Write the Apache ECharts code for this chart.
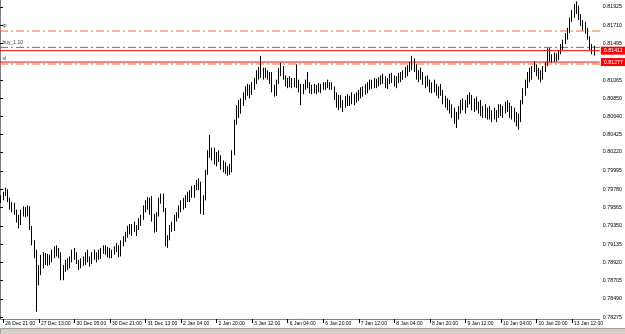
<!DOCTYPE html>
<html>
<head>
<meta charset="utf-8">
<script src="https://cdn.jsdelivr.net/npm/echarts@6/dist/echarts.min.js"></script>
<style>
  html, body { margin: 0; padding: 0; background: #fff; }
  #main { width: 625px; height: 334px; }
</style>
</head>
<body>
<div id="main"></div>
<script>
// hourly bars, [open, close, low, high]
var ohlc = [
  [0.7965,0.7968,0.7962,0.7971],[0.7968,0.7973,0.7965,0.7975],[0.7973,0.7977,0.7970,0.7980],[0.7977,0.7965,0.7963,0.7978],
  [0.7965,0.7957,0.7954,0.7968],[0.7957,0.7959,0.7951,0.7963],[0.7959,0.7951,0.7948,0.7962],[0.7951,0.7944,0.7939,0.7954],
  [0.7944,0.7938,0.7932,0.7948],[0.7938,0.7951,0.7936,0.7954],[0.7951,0.7954,0.7946,0.7958],[0.7954,0.7949,0.7945,0.7957],
  [0.7949,0.7956,0.7946,0.7959],[0.7956,0.7932,0.7930,0.7958],[0.7932,0.7916,0.7912,0.7935],[0.7916,0.7901,0.7897,0.7918],
  [0.7901,0.7869,0.7834,0.7907],[0.7869,0.7883,0.7865,0.7889],[0.7883,0.7897,0.7877,0.7901],[0.7897,0.7892,0.7885,0.7904],
  [0.7892,0.7899,0.7889,0.7903],[0.7899,0.7895,0.7888,0.7902],[0.7895,0.7897,0.7889,0.7901],[0.7897,0.7904,0.7892,0.7907],
  [0.7904,0.7909,0.7897,0.7911],[0.7909,0.7907,0.7899,0.7912],[0.7907,0.7902,0.7897,0.7909],[0.7902,0.7876,0.7871,0.7904],
  [0.7876,0.7885,0.7871,0.7889],[0.7885,0.7892,0.7881,0.7895],[0.7892,0.7888,0.7883,0.7897],[0.7888,0.7896,0.7885,0.7899],
  [0.7896,0.7904,0.7892,0.7907],[0.7904,0.7899,0.7895,0.7909],[0.7899,0.7892,0.7890,0.7904],[0.7892,0.7888,0.7883,0.7895],
  [0.7888,0.7894,0.7885,0.7897],[0.7894,0.7890,0.7888,0.7899],[0.7890,0.7902,0.7889,0.7904],[0.7902,0.7897,0.7892,0.7907],
  [0.7897,0.7892,0.7887,0.7899],[0.7892,0.7902,0.7890,0.7904],[0.7902,0.7899,0.7895,0.7907],[0.7899,0.7903,0.7892,0.7904],
  [0.7903,0.7898,0.7895,0.7907],[0.7898,0.7907,0.7896,0.7909],[0.7907,0.7910,0.7902,0.7912],[0.7910,0.7904,0.7901,0.7912],
  [0.7904,0.7908,0.7898,0.7910],[0.7908,0.7901,0.7897,0.7909],[0.7901,0.7904,0.7897,0.7907],[0.7904,0.7909,0.7901,0.7911],
  [0.7909,0.7907,0.7904,0.7915],[0.7907,0.7902,0.7898,0.7912],[0.7902,0.7915,0.7899,0.7918],[0.7915,0.7921,0.7911,0.7923],
  [0.7921,0.7925,0.7916,0.7928],[0.7925,0.7932,0.7921,0.7935],[0.7932,0.7930,0.7925,0.7937],[0.7930,0.7935,0.7923,0.7937],
  [0.7935,0.7930,0.7928,0.7940],[0.7930,0.7934,0.7923,0.7936],[0.7934,0.7942,0.7930,0.7944],[0.7942,0.7945,0.7935,0.7948],
  [0.7945,0.7957,0.7942,0.7959],[0.7957,0.7962,0.7951,0.7965],[0.7962,0.7958,0.7954,0.7969],[0.7958,0.7965,0.7948,0.7968],
  [0.7965,0.7944,0.7940,0.7970],[0.7944,0.7930,0.7927,0.7949],[0.7930,0.7949,0.7928,0.7951],[0.7949,0.7965,0.7946,0.7968],
  [0.7965,0.7970,0.7961,0.7973],[0.7970,0.7954,0.7951,0.7973],[0.7954,0.7915,0.7911,0.7956],[0.7915,0.7921,0.7909,0.7924],
  [0.7921,0.7932,0.7918,0.7936],[0.7932,0.7930,0.7928,0.7940],[0.7930,0.7944,0.7929,0.7948],[0.7944,0.7949,0.7940,0.7951],
  [0.7949,0.7956,0.7944,0.7959],[0.7956,0.7961,0.7951,0.7965],[0.7961,0.7958,0.7954,0.7968],[0.7958,0.7968,0.7956,0.7971],
  [0.7968,0.7965,0.7963,0.7975],[0.7965,0.7974,0.7963,0.7977],[0.7974,0.7970,0.7968,0.7982],[0.7970,0.7980,0.7968,0.7983],
  [0.7980,0.7985,0.7977,0.7989],[0.7985,0.7982,0.7977,0.7991],[0.7982,0.7954,0.7949,0.7987],[0.7954,0.7968,0.7948,0.7971],
  [0.7968,0.7998,0.7965,0.8001],[0.7998,0.8018,0.7995,0.8024],[0.8018,0.8022,0.8015,0.8042],[0.8022,0.8024,0.8012,0.8027],
  [0.8024,0.8012,0.8007,0.8027],[0.8012,0.8018,0.8005,0.8022],[0.8018,0.8015,0.8010,0.8024],[0.8015,0.8005,0.8001,0.8018],
  [0.8005,0.8008,0.7998,0.8012],[0.8008,0.8001,0.7996,0.8010],[0.8001,0.7998,0.7994,0.8005],[0.7998,0.8005,0.7995,0.8008],
  [0.8005,0.8022,0.7998,0.8024],[0.8022,0.8056,0.8018,0.8060],[0.8056,0.8071,0.8054,0.8077],[0.8071,0.8069,0.8062,0.8083],
  [0.8069,0.8081,0.8067,0.8085],[0.8081,0.8088,0.8076,0.8092],[0.8088,0.8095,0.8083,0.8099],[0.8095,0.8092,0.8088,0.8102],
  [0.8092,0.8097,0.8085,0.8101],[0.8097,0.8099,0.8089,0.8104],[0.8099,0.8107,0.8095,0.8109],[0.8107,0.8115,0.8102,0.8118],
  [0.8115,0.8118,0.8107,0.8122],[0.8118,0.8112,0.8109,0.8135],[0.8112,0.8116,0.8107,0.8121],[0.8116,0.8114,0.8109,0.8121],
  [0.8114,0.8110,0.8107,0.8118],[0.8110,0.8114,0.8102,0.8116],[0.8114,0.8095,0.8092,0.8116],[0.8095,0.8090,0.8087,0.8101],
  [0.8090,0.8104,0.8088,0.8107],[0.8104,0.8118,0.8102,0.8121],[0.8118,0.8121,0.8111,0.8127],[0.8121,0.8109,0.8107,0.8123],
  [0.8109,0.8104,0.8099,0.8112],[0.8104,0.8107,0.8097,0.8109],[0.8107,0.8102,0.8098,0.8111],[0.8102,0.8105,0.8097,0.8109],
  [0.8105,0.8102,0.8098,0.8109],[0.8102,0.8104,0.8097,0.8125],[0.8104,0.8097,0.8092,0.8107],[0.8097,0.8095,0.8077,0.8102],
  [0.8095,0.8099,0.8090,0.8102],[0.8099,0.8102,0.8095,0.8107],[0.8102,0.8099,0.8097,0.8116],[0.8099,0.8095,0.8091,0.8104],
  [0.8095,0.8097,0.8090,0.8101],[0.8097,0.8095,0.8091,0.8102],[0.8095,0.8098,0.8090,0.8101],[0.8098,0.8096,0.8092,0.8103],
  [0.8096,0.8099,0.8091,0.8102],[0.8099,0.8101,0.8095,0.8104],[0.8101,0.8102,0.8095,0.8104],[0.8102,0.8099,0.8097,0.8107],
  [0.8099,0.8102,0.8095,0.8104],[0.8102,0.8097,0.8095,0.8104],[0.8097,0.8087,0.8083,0.8099],[0.8087,0.8078,0.8074,0.8092],
  [0.8078,0.8085,0.8071,0.8089],[0.8085,0.8076,0.8074,0.8089],[0.8076,0.8080,0.8069,0.8083],[0.8080,0.8084,0.8074,0.8088],
  [0.8084,0.8081,0.8076,0.8090],[0.8081,0.8085,0.8076,0.8088],[0.8085,0.8083,0.8078,0.8092],[0.8083,0.8088,0.8077,0.8090],
  [0.8088,0.8084,0.8080,0.8092],[0.8084,0.8091,0.8082,0.8095],[0.8091,0.8089,0.8085,0.8098],[0.8089,0.8096,0.8087,0.8099],
  [0.8096,0.8092,0.8089,0.8102],[0.8092,0.8101,0.8091,0.8104],[0.8101,0.8098,0.8095,0.8107],[0.8098,0.8104,0.8096,0.8107],
  [0.8104,0.8101,0.8097,0.8109],[0.8101,0.8105,0.8097,0.8108],[0.8105,0.8103,0.8099,0.8110],[0.8103,0.8109,0.8101,0.8112],
  [0.8109,0.8105,0.8102,0.8114],[0.8105,0.8102,0.8097,0.8111],[0.8102,0.8107,0.8096,0.8109],[0.8107,0.8110,0.8102,0.8114],
  [0.8110,0.8108,0.8103,0.8115],[0.8108,0.8103,0.8099,0.8112],[0.8103,0.8109,0.8097,0.8111],[0.8109,0.8112,0.8103,0.8115],
  [0.8112,0.8110,0.8104,0.8116],[0.8110,0.8115,0.8107,0.8118],[0.8115,0.8112,0.8109,0.8122],[0.8112,0.8121,0.8111,0.8124],
  [0.8121,0.8123,0.8116,0.8128],[0.8123,0.8128,0.8118,0.8135],[0.8128,0.8121,0.8116,0.8132],[0.8121,0.8109,0.8107,0.8125],
  [0.8109,0.8115,0.8104,0.8118],[0.8115,0.8111,0.8107,0.8121],[0.8111,0.8104,0.8101,0.8116],[0.8104,0.8107,0.8097,0.8111],
  [0.8107,0.8102,0.8099,0.8112],[0.8102,0.8096,0.8092,0.8107],[0.8096,0.8099,0.8091,0.8104],[0.8099,0.8095,0.8092,0.8107],
  [0.8095,0.8092,0.8088,0.8102],[0.8092,0.8097,0.8085,0.8099],[0.8097,0.8090,0.8088,0.8102],[0.8090,0.8082,0.8078,0.8095],
  [0.8082,0.8078,0.8074,0.8088],[0.8078,0.8076,0.8071,0.8085],[0.8076,0.8070,0.8067,0.8083],[0.8070,0.8065,0.8062,0.8078],
  [0.8065,0.8060,0.8055,0.8074],[0.8060,0.8064,0.8050,0.8069],[0.8064,0.8071,0.8060,0.8076],[0.8071,0.8078,0.8067,0.8083],
  [0.8078,0.8074,0.8071,0.8085],[0.8074,0.8080,0.8067,0.8083],[0.8080,0.8085,0.8074,0.8089],[0.8085,0.8083,0.8078,0.8092],
  [0.8083,0.8076,0.8071,0.8089],[0.8076,0.8081,0.8069,0.8085],[0.8081,0.8074,0.8071,0.8087],[0.8074,0.8077,0.8067,0.8081],
  [0.8077,0.8069,0.8064,0.8083],[0.8069,0.8071,0.8062,0.8076],[0.8071,0.8065,0.8062,0.8078],[0.8065,0.8069,0.8060,0.8074],
  [0.8069,0.8063,0.8060,0.8076],[0.8063,0.8068,0.8057,0.8071],[0.8068,0.8064,0.8060,0.8074],[0.8064,0.8069,0.8057,0.8071],
  [0.8069,0.8074,0.8062,0.8078],[0.8074,0.8068,0.8064,0.8078],[0.8068,0.8071,0.8062,0.8076],[0.8071,0.8076,0.8067,0.8081],
  [0.8076,0.8074,0.8069,0.8083],[0.8074,0.8067,0.8062,0.8080],[0.8067,0.8071,0.8060,0.8076],[0.8071,0.8062,0.8057,0.8074],
  [0.8062,0.8060,0.8052,0.8069],[0.8060,0.8062,0.8048,0.8067],[0.8062,0.8081,0.8057,0.8083],[0.8081,0.8092,0.8078,0.8097],
  [0.8092,0.8102,0.8088,0.8107],[0.8102,0.8111,0.8097,0.8116],[0.8111,0.8109,0.8104,0.8121],[0.8109,0.8118,0.8107,0.8123],
  [0.8118,0.8123,0.8116,0.8129],[0.8123,0.8116,0.8111,0.8125],[0.8116,0.8114,0.8107,0.8121],[0.8114,0.8109,0.8104,0.8118],
  [0.8109,0.8121,0.8107,0.8123],[0.8121,0.8125,0.8116,0.8128],[0.8125,0.8142,0.8123,0.8144],[0.8142,0.8132,0.8128,0.8144],
  [0.8132,0.8135,0.8127,0.8137],[0.8135,0.8130,0.8128,0.8139],[0.8130,0.8136,0.8128,0.8138],[0.8136,0.8139,0.8130,0.8142],
  [0.8139,0.8146,0.8137,0.8149],[0.8146,0.8151,0.8142,0.8154],[0.8151,0.8158,0.8149,0.8162],[0.8158,0.8165,0.8154,0.8168],
  [0.8165,0.8177,0.8162,0.8180],[0.8177,0.8184,0.8175,0.8189],[0.8184,0.8191,0.8180,0.8196],[0.8191,0.8189,0.8184,0.8199],
  [0.8189,0.8182,0.8177,0.8194],[0.8182,0.8175,0.8170,0.8184],[0.8175,0.8172,0.8165,0.8177],[0.8172,0.8165,0.8161,0.8175],
  [0.8165,0.8157,0.8154,0.8168],[0.8157,0.8146,0.8142,0.8158],[0.8146,0.8145,0.8137,0.8149],[0.8145,0.8141,0.8135,0.8147]
];

// time labels, one every 16 bars starting at bar 1
var timeLabels = ['26 Dec 21:00', '27 Dec 13:00', '30 Dec 05:00', '30 Dec 21:00', '31 Dec 13:00', '2 Jan 04:00',
  '2 Jan 20:00', '3 Jan 12:00', '6 Jan 04:00', '6 Jan 20:00', '7 Jan 12:00', '8 Jan 04:00', '8 Jan 20:00',
  '9 Jan 12:00', '10 Jan 04:00', '10 Jan 20:00', '13 Jan 12:00'];

// price scale labels
var priceTicks = [0.81925, 0.81710, 0.81495, 0.81065, 0.80850, 0.80640, 0.80425, 0.80220, 0.79995,
  0.79780, 0.79565, 0.79350, 0.79135, 0.78920, 0.78705, 0.78490, 0.78275];

// horizontal levels
var tpLevel = 0.81642;
var buyLevel = 0.81450;
var slLevel = 0.81254;
var bidLevel = 0.81411;
var redLevel = 0.81277;

var slots = 270; // bars plus a little empty room on the right
var cats = [];
for (var i = 0; i < slots; i++) cats.push(String(i));

function isLabelBar(idx) {
    return idx >= 1 && (idx - 1) % 16 === 0 && (idx - 1) / 16 < timeLabels.length;
}

var smallFont = 'Liberation Sans';
var dashDot = [8, 3, 2, 3];

// dash-dot order line
function dashLine(value, color) {
    return {
        type: 'line',
        xAxisIndex: 1,
        symbol: 'none',
        silent: true,
        clip: false,
        z: 1,
        lineStyle: { color: color, width: 1, type: dashDot },
        data: [[0, value], [1, value]]
    };
}

// small name written above the left end of an order line
function lineName(value, text) {
    return {
        type: 'scatter',
        xAxisIndex: 1,
        symbolSize: 1,
        silent: true,
        clip: false,
        z: 4,
        itemStyle: { color: 'rgba(0,0,0,0)' },
        label: {
            show: true, position: 'top', align: 'left', verticalAlign: 'bottom',
            distance: 2, offset: [0, 0], formatter: text,
            color: '#000', fontSize: 5, fontFamily: smallFont
        },
        labelLayout: { hideOverlap: false, moveOverlap: null },
        data: [[0.004, value]]
    };
}

// solid red price line with its value boxed on the price scale
function priceLine(value) {
    return {
        type: 'line',
        xAxisIndex: 1,
        symbol: 'none',
        silent: true,
        clip: false,
        z: 3,
        lineStyle: { color: '#ff0000', width: 1, type: 'solid' },
        endLabel: {
            show: true, formatter: value.toFixed(5), distance: 1,
            color: '#fff', backgroundColor: '#ff0000', fontSize: 5.3, fontFamily: smallFont,
            padding: [2, 3, 1, 3]
        },
        data: [[0, value], [1, value]]
    };
}

var myChart = echarts.init(document.getElementById('main'));

var option = {
    backgroundColor: '#fff',
    animation: false,
    grid: { left: 0, right: 24, top: 0, bottom: 15 },
    xAxis: [{
        type: 'category',
        data: cats,
        boundaryGap: true,
        axisLine: { show: true, lineStyle: { color: '#808080', width: 1 } },
        axisTick: { show: true, interval: isLabelBar, alignWithLabel: true, length: 4, lineStyle: { color: '#000' } },
        axisLabel: {
            show: true, interval: isLabelBar, align: 'left', margin: 2,
            fontSize: 5, fontFamily: smallFont, color: '#000', padding: [0, 0, 0, 2],
            formatter: function (val, idx) { return timeLabels[(idx - 1) / 16]; }
        },
        splitLine: { show: false }
    }, {
        type: 'value',
        min: 0,
        max: 1,
        show: false
    }],
    yAxis: {
        type: 'value',
        position: 'right',
        min: 0.78254,
        max: 0.82007,
        axisLine: { show: true, lineStyle: { color: '#808080', width: 1 } },
        axisTick: { show: true, customValues: priceTicks, length: 3, lineStyle: { color: '#000' } },
        axisLabel: {
            show: true, customValues: priceTicks, margin: 3,
            fontSize: 5.3, fontFamily: smallFont, color: '#000',
            formatter: function (v) { return v.toFixed(5); }
        },
        splitLine: { show: false }
    },
    series: [
        dashLine(tpLevel, '#f26a30'),
        dashLine(buyLevel, '#3c963c'),
        dashLine(slLevel, '#f26a30'),
        {
            type: 'candlestick',
            data: ohlc,
            barWidth: 1.2,
            z: 2,
            itemStyle: {
                color: '#ffffff',
                color0: '#000000',
                borderColor: '#000000',
                borderColor0: '#000000',
                borderWidth: 1
            }
        },
        priceLine(bidLevel),
        priceLine(redLevel),
        lineName(tpLevel, 'tp'),
        lineName(buyLevel, 'buy_1.10'),
        lineName(slLevel, 'sl')
    ],
    graphic: [{
        type: 'rect',
        left: 0, top: 328,
        shape: { width: 625, height: 6 },
        style: { fill: '#d4d0c8', stroke: '#a0a0a0', lineWidth: 1 },
        silent: true
    }]
};

myChart.setOption(option);
</script>
</body>
</html>
